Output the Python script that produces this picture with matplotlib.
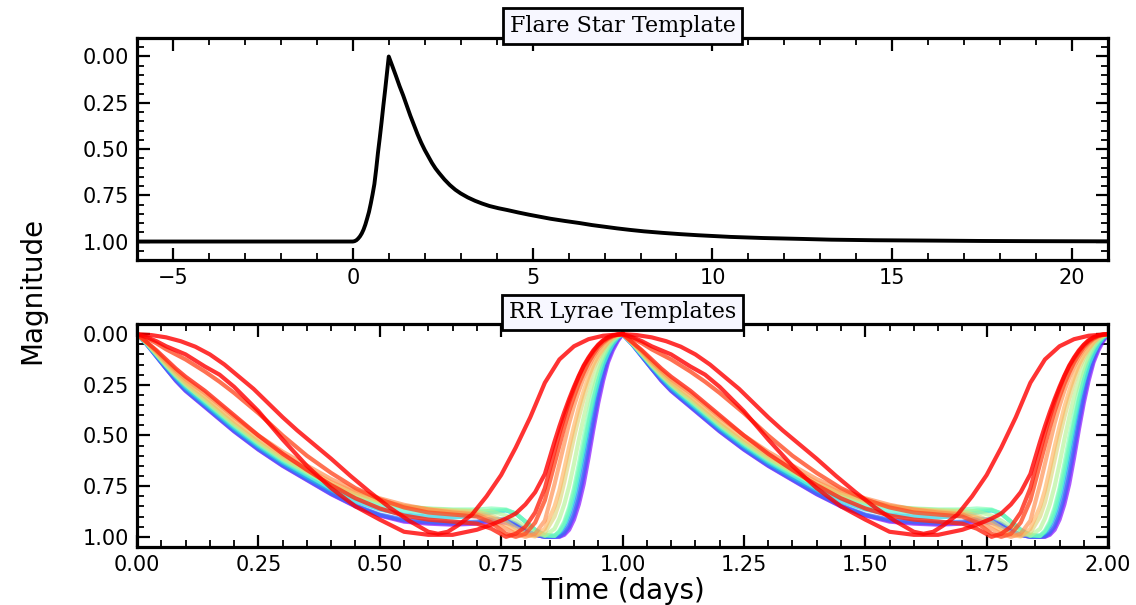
import matplotlib
matplotlib.use("Agg")
import matplotlib.pyplot as plt
from matplotlib.ticker import MultipleLocator

# ---------------- Flare template ----------------
flare_time = [-6, -2, 0, 0.05, 0.1, 0.15, 0.2, 0.25, 0.3, 0.35, 0.4, 0.45,
              0.5, 0.55, 0.6, 0.65, 0.7, 0.75, 0.8, 0.85, 0.9, 0.95, 1.0,
              1.1, 1.2, 1.3, 1.4, 1.5, 1.6, 1.7, 1.8, 1.9, 2.0, 2.1, 2.2, 2.3,
              2.4, 2.55, 2.7, 2.85, 3.0, 3.2, 3.4, 3.6, 3.8, 4.05, 4.3, 4.6,
              4.9, 5.2, 5.5, 5.9, 6.3, 6.65, 7.0, 7.35, 7.7, 8.1, 8.6, 9.1,
              9.6, 10.5, 11.4, 12.5, 13.3, 14.5, 16.1, 17.5, 18.9, 21]
flare_mag = [1.0, 1.0, 1.0, 0.998, 0.993, 0.984, 0.972, 0.956, 0.935, 0.908,
             0.875, 0.84, 0.795, 0.745, 0.69, 0.61, 0.52, 0.44, 0.355, 0.265,
             0.18, 0.09, 0.0,
             0.052, 0.105, 0.16, 0.21, 0.265, 0.32, 0.37, 0.42, 0.465, 0.505,
             0.54, 0.575, 0.605, 0.63, 0.665, 0.695, 0.72, 0.74, 0.762, 0.78,
             0.795, 0.808, 0.82, 0.83, 0.843, 0.855, 0.866, 0.877, 0.889, 0.90,
             0.911, 0.92, 0.929, 0.937, 0.945, 0.953, 0.96, 0.966, 0.975,
             0.981, 0.986, 0.99, 0.993, 0.995, 0.997, 0.998, 0.999]

# ---------------- RR Lyrae templates (one period, drawn twice) ----------------
rr_phase = [0, .02, .04, .06, .08, .10, .12, .14, .17, .20, .25, .30, .35, .40,
            .45, .50, .55, .60, .65, .70, .73, .76, .78, .80, .82, .84, .86,
            .87, .88, .89, .90, .91, .92, .93, .94, .95, .96, .97, .98, .99, 1.00]

rr_color_values = [0.0, 0.08, 0.15, 0.30, 0.40, 0.50, 0.60, 0.68, 0.75, 0.82,
                   0.90, 0.95, 1.0]

rr_mag_000 = [0, .05, .11, .17, .23, .28, .32, .36, .42, .48, .57, .65, .72, .79,
              .85, .895, .925, .935, .94, .935, .925, .93, .945, .97, .99, 1.0,
              1.0, 1.0, .99, .965, .915, .84, .74, .61, .47, .34, .23, .14, .08,
              .035, 0]
rr_mag_008 = [0, .05, .11, .17, .228, .278, .318, .357, .418, .478, .568, .648,
              .718, .788, .848, .893, .92, .93, .935, .93, .918, .922, .94, .968,
              .99, 1.0, 1.0, .998, .983, .95, .893, .81, .70, .57, .435, .31,
              .205, .125, .068, .028, 0]
rr_mag_015 = [0, .05, .11, .17, .225, .275, .315, .355, .415, .475, .565, .645,
              .715, .785, .845, .89, .915, .925, .93, .925, .91, .915, .935,
              .965, .99, 1.0, 1.0, .995, .975, .935, .87, .78, .66, .53, .40,
              .28, .18, .11, .055, .02, 0]
rr_mag_030 = [0, .05, .105, .16, .215, .265, .305, .345, .405, .465, .555, .635,
              .705, .77, .825, .865, .89, .90, .905, .895, .88, .87, .885, .925,
              .965, .995, .995, .98, .945, .89, .81, .70, .58, .45, .33, .23,
              .15, .09, .045, .015, 0]
rr_mag_040 = [0, .048, .102, .157, .21, .258, .298, .338, .398, .458, .548, .628,
              .695, .758, .81, .848, .87, .88, .885, .882, .87, .868, .885, .925,
              .968, .993, .995, .975, .935, .87, .78, .67, .55, .43, .32, .23,
              .15, .095, .05, .018, 0]
rr_mag_050 = [0, .045, .10, .155, .205, .25, .29, .33, .39, .45, .54, .62, .685,
              .745, .795, .83, .85, .86, .865, .865, .86, .865, .885, .925, .965,
              .99, .995, .97, .925, .855, .76, .64, .51, .39, .28, .19, .12,
              .07, .035, .012, 0]
rr_mag_060 = [0, .045, .097, .152, .202, .248, .288, .325, .385, .445, .535,
              .615, .68, .742, .792, .83, .852, .862, .868, .87, .875, .895, .92,
              .95, .98, .995, .96, .91, .84, .75, .64, .52, .41, .31, .23, .16,
              .105, .06, .03, .01, 0]
rr_mag_068 = [0, .045, .095, .15, .20, .245, .285, .32, .38, .44, .53, .61, .675,
              .74, .79, .825, .85, .862, .87, .875, .895, .925, .955, .98, .995,
              .98, .90, .83, .73, .62, .51, .41, .32, .24, .17, .12, .08, .045,
              .02, .007, 0]
rr_mag_075 = [0, .042, .09, .142, .19, .235, .272, .308, .368, .428, .518, .598,
              .665, .73, .782, .82, .848, .865, .875, .885, .905, .94, .97, .99,
              .998, .96, .85, .77, .665, .555, .455, .36, .28, .21, .15, .105,
              .07, .04, .018, .006, 0]
rr_mag_082 = [0, .04, .085, .135, .18, .222, .258, .292, .35, .41, .50, .58,
              .648, .715, .77, .81, .842, .865, .88, .89, .92, .96, .985, 1.0,
              .985, .92, .74, .64, .54, .44, .355, .28, .215, .16, .115, .078,
              .048, .026, .012, .004, 0]
rr_mag_090 = [0, .02, .045, .075, .10, .125, .155, .185, .235, .29, .39, .50,
              .60, .685, .76, .815, .855, .88, .89, .90, .93, .985, 1.0, .985,
              .93, .82, .64, .55, .46, .38, .31, .245, .19, .14, .10, .065,
              .04, .022, .01, .003, 0]
rr_mag_095 = [0, .04, .08, .125, .17, .21, .245, .28, .34, .40, .50, .59, .67,
              .745, .81, .86, .895, .915, .925, .935, .96, 1.0, .985, .95, .88,
              .76, .58, .49, .41, .335, .27, .21, .16, .12, .085, .055, .033,
              .018, .008, .002, 0]
rr_mag_100 = [0, .015, .035, .06, .08, .10, .13, .16, .20, .26, .38, .52, .65,
              .76, .85, .915, .975, .99, .99, .965, .94, .91, .885, .84, .78,
              .69, .53, .455, .385, .32, .26, .205, .155, .115, .08, .052, .03,
              .015, .006, .002, 0]

rr_early_phase = [0, .03, .06, .09, .12, .15, .18, .21, .24, .27, .30, .33,
                  .36, .40, .44, .48, .52, .56, .60, .62, .64, .66, .69, .72,
                  .75, .78, .81, .84, .87, .90, .93, .96, 1.0]
rr_early_mag = [0, .005, .016, .035, .062, .10, .15, .21, .27, .34, .41, .475,
                .535, .615, .70, .78, .855, .92, .975, .985, .975, .945, .89,
                .80, .695, .56, .41, .24, .125, .06, .025, .008, 0]

rr_curves = [rr_mag_000, rr_mag_008, rr_mag_015, rr_mag_030, rr_mag_040,
             rr_mag_050, rr_mag_060, rr_mag_068, rr_mag_075, rr_mag_082,
             rr_mag_090, rr_mag_095, rr_mag_100]

# ---------------- Figure ----------------
fig = plt.figure(figsize=(11.36, 6.05), dpi=100)
ax1 = fig.add_axes([0.1206, 0.5702, 0.8548, 0.3670])
ax2 = fig.add_axes([0.1206, 0.0959, 0.8548, 0.3686])

ax1.plot(flare_time, flare_mag, color="black", lw=2.8)
ax1.set_xlim(-6, 21)
ax1.set_ylim(1.1, -0.1)
ax1.xaxis.set_major_locator(MultipleLocator(5))
ax1.xaxis.set_minor_locator(MultipleLocator(1))

cmap = plt.cm.rainbow
for cval, mags in zip(rr_color_values, rr_curves):
    alpha = 0.8 if cval >= 0.9 else 0.65
    for k in (0, 1):
        ax2.plot([p + k for p in rr_phase], mags, color=cmap(cval), lw=3.0,
                 alpha=alpha)
for k in (0, 1):
    ax2.plot([p + k for p in rr_early_phase], rr_early_mag, color=cmap(1.0),
             lw=3.0, alpha=0.8)
ax2.set_xlim(0, 2)
ax2.set_ylim(1.05, -0.05)
ax2.xaxis.set_major_locator(MultipleLocator(0.25))
ax2.xaxis.set_minor_locator(MultipleLocator(0.05))
ax2.xaxis.set_major_formatter(plt.FormatStrFormatter("%.2f"))

for ax in (ax1, ax2):
    ax.yaxis.set_major_locator(MultipleLocator(0.25))
    ax.yaxis.set_minor_locator(MultipleLocator(0.05))
    ax.yaxis.set_major_formatter(plt.FormatStrFormatter("%.2f"))
    for s in ax.spines.values():
        s.set_linewidth(2.3)
    ax.tick_params(which="both", direction="in", top=True, right=True,
                   labelsize=15)
    ax.tick_params(which="major", length=9, width=1.6, pad=6)
    ax.tick_params(which="minor", length=5, width=1.3)

box = dict(boxstyle="square,pad=0.3", facecolor="#f7f7ff", edgecolor="black",
           linewidth=2)
ax1.text(0.5, 1.054, "Flare Star Template", transform=ax1.transAxes,
         ha="center", va="center", fontsize=16, family="DejaVu Serif",
         bbox=box, zorder=10)
ax2.text(0.5, 1.052, "RR Lyrae Templates", transform=ax2.transAxes,
         ha="center", va="center", fontsize=16, family="DejaVu Serif",
         bbox=box, zorder=10)

ax2.set_xlabel("Time (days)", fontsize=20, labelpad=1)
fig.text(0.028, 0.52, "Magnitude", rotation=90, fontsize=20,
         ha="center", va="center")

fig.savefig("out.png", dpi=100)
